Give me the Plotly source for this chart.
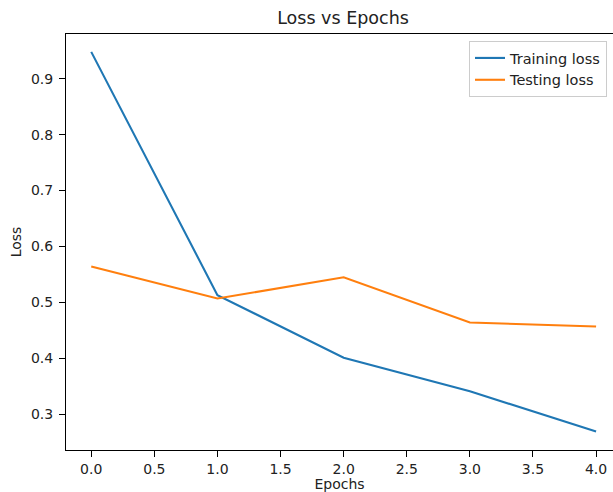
import plotly.graph_objects as go

epochs = [0, 1, 2, 3, 4]
training_loss = [0.948, 0.513, 0.401, 0.341, 0.269]
testing_loss = [0.564, 0.507, 0.545, 0.464, 0.457]
x_ticks = [0.0, 0.5, 1.0, 1.5, 2.0, 2.5, 3.0, 3.5, 4.0]
y_ticks = [0.3, 0.4, 0.5, 0.6, 0.7, 0.8, 0.9]

font = "DejaVu Sans"

fig = go.Figure()
fig.add_trace(go.Scatter(x=epochs, y=training_loss, mode="lines", name="Training loss",
                         line=dict(color="#1f77b4", width=2.1)))
fig.add_trace(go.Scatter(x=epochs, y=testing_loss, mode="lines", name="Testing loss",
                         line=dict(color="#ff7f0e", width=2.1)))

axis_common = dict(showgrid=False, zeroline=False, showline=True, linecolor="black", linewidth=1.1,
                   ticks="outside", ticklen=6, tickwidth=1, tickcolor="black",
                   tickfont=dict(family=font, size=14, color="#222222"))

fig.update_layout(
    width=613, height=492,
    margin=dict(l=66, r=0, t=34, b=42),
    paper_bgcolor="white", plot_bgcolor="white",
    font=dict(family=font, color="#222222"),
    title=dict(text="Loss vs Epochs", x=343/613, xref="container", xanchor="center",
               y=1 - 18/492, yref="container", yanchor="middle",
               font=dict(family=font, size=17.5, color="#222222")),
    xaxis=dict(range=[-0.2, 4.134], tickvals=x_ticks, ticktext=[f"{v:.1f}" for v in x_ticks],
               mirror=True, title=dict(text="Epochs", font=dict(family=font, size=14), standoff=6),
               **axis_common),
    yaxis=dict(range=[0.236, 0.980], tickvals=y_ticks, ticktext=[f"{v:.1f}" for v in y_ticks],
               mirror=False, ticklabelstandoff=3,
               title=dict(text="Loss", font=dict(family=font, size=14), standoff=5),
               **axis_common),
    legend=dict(x=(607-66)/(613-66), xanchor="right", y=(450-41)/416, yanchor="top",
                bgcolor="rgba(255,255,255,0.8)", bordercolor="#cccccc", borderwidth=1,
                font=dict(family=font, size=14.5, color="#222222"), itemwidth=30,
                tracegroupgap=0),
    showlegend=True,
)

fig.write_html("out.html", config={"displayModeBar": False},
               post_script="document.body.style.margin='0';document.body.style.overflow='hidden';")
